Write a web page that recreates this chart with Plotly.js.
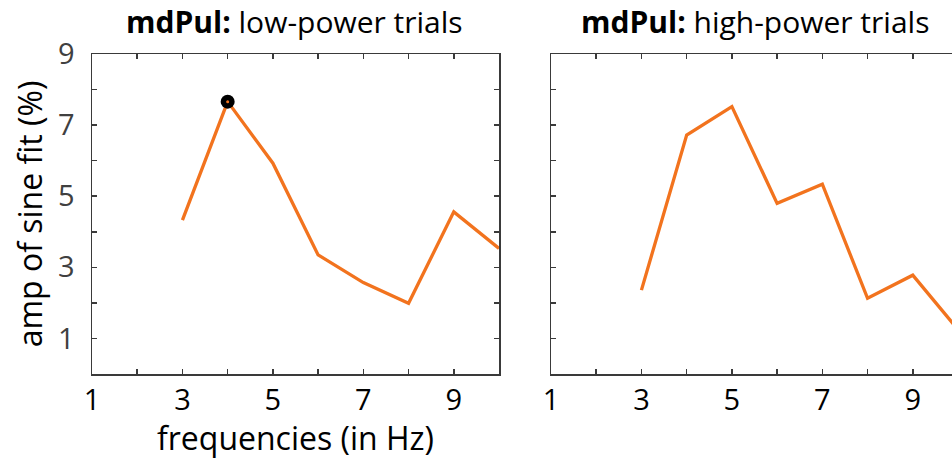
<!DOCTYPE html>
<html>
<head>
<meta charset="utf-8">
<script src="https://cdn.plot.ly/plotly-3.0.1.min.js"></script>
<style>
html,body{margin:0;padding:0;overflow:hidden;background:#fff;}
#chart{width:962px;height:459px;}
</style>
</head>
<body>
<div id="chart"></div>
<script>
var freqs = [3, 4, 5, 6, 7, 8, 9, 10];
var lowPower = [4.33, 7.66, 5.93, 3.35, 2.57, 1.99, 4.56, 3.53];
var highPower = [2.36, 6.72, 7.52, 4.80, 5.34, 2.13, 2.78, 1.25];
var peakFreq = [4];
var peakAmp = [7.66];
var tickVals = [1, 2, 3, 4, 5, 6, 7, 8, 9, 10];
var xTickText = ['1', '', '3', '', '5', '', '7', '', '9', ''];
var yTickVals = [0, 1, 2, 3, 4, 5, 6, 7, 8, 9];
var yTickText = ['', '1', '', '3', '', '5', '', '7', '', '9'];

var W = 962, H = 459;
var orange = 'rgb(242,115,30)';
var axisCol = '#3a3a3a';
var fam = '"Open Sans", "Noto Sans", sans-serif';

var traces = [
  {x: freqs, y: lowPower, type: 'scatter', mode: 'lines', line: {color: orange, width: 3.3}, xaxis: 'x', yaxis: 'y', hoverinfo: 'skip'},
  {x: peakFreq, y: peakAmp, type: 'scatter', mode: 'markers', marker: {color: '#000', size: 14, symbol: 'circle'}, xaxis: 'x', yaxis: 'y', hoverinfo: 'skip'},
  {x: peakFreq, y: peakAmp, type: 'scatter', mode: 'markers', marker: {color: orange, size: 3, symbol: 'circle'}, xaxis: 'x', yaxis: 'y', hoverinfo: 'skip'},
  {x: freqs, y: highPower, type: 'scatter', mode: 'lines', line: {color: orange, width: 3.3}, xaxis: 'x2', yaxis: 'y2', hoverinfo: 'skip'}
];

function xax(dom, withTitle) {
  var a = {
    domain: dom, range: [1, 10], showgrid: false, zeroline: false,
    showline: true, linecolor: axisCol, linewidth: 1.5, mirror: 'ticks',
    ticks: 'inside', ticklen: 5, tickwidth: 1.5, tickcolor: axisCol,
    tickmode: 'array', tickvals: tickVals, ticktext: xTickText,
    tickfont: {family: fam, size: 29, color: '#000'}, ticklabelstandoff: 0,
    fixedrange: true
  };
  if (withTitle) {
    a.title = {text: 'frequencies (in Hz)', font: {family: fam, size: 32, color: '#000'}, standoff: 0};
  }
  return a;
}
function yax(anchor, withLabels) {
  var a = {
    domain: [(H - 374) / H, (H - 54) / H], range: [0, 9], anchor: anchor,
    showgrid: false, zeroline: false,
    showline: true, linecolor: axisCol, linewidth: 1.5, mirror: 'ticks',
    ticks: 'inside', ticklen: 5, tickwidth: 1.5, tickcolor: axisCol,
    tickmode: 'array', tickvals: yTickVals, ticktext: withLabels ? yTickText : yTickVals.map(function(){return '';}),
    tickfont: {family: fam, size: 29, color: '#404040'}, ticklabelstandoff: 10,
    fixedrange: true
  };
  if (withLabels) {
    a.title = {text: 'amp of sine fit (%)', font: {family: fam, size: 32, color: '#000'}, standoff: 6};
  }
  return a;
}

var layout = {
  width: W, height: H,
  margin: {l: 0, r: 0, t: 0, b: 0},
  paper_bgcolor: '#fff', plot_bgcolor: '#fff',
  showlegend: false,
  xaxis: Object.assign(xax([92 / W, 499 / W], true), {anchor: 'y'}),
  yaxis: yax('x', true),
  xaxis2: Object.assign(xax([551 / W, 958 / W], false), {anchor: 'y2'}),
  yaxis2: yax('x2', false),
  annotations: [
    {text: '<b>mdPul:</b> low-power trials', xref: 'paper', yref: 'paper', x: 294 / W, y: (H - 22) / H,
     xanchor: 'center', yanchor: 'middle', showarrow: false, font: {family: fam, size: 30, color: '#000'}},
    {text: '<b>mdPul:</b> high-power trials', xref: 'paper', yref: 'paper', x: 755 / W, y: (H - 22) / H,
     xanchor: 'center', yanchor: 'middle', showarrow: false, font: {family: fam, size: 30, color: '#000'}}
  ]
};

Plotly.newPlot('chart', traces, layout, {displayModeBar: false, staticPlot: true});
</script>
</body>
</html>
